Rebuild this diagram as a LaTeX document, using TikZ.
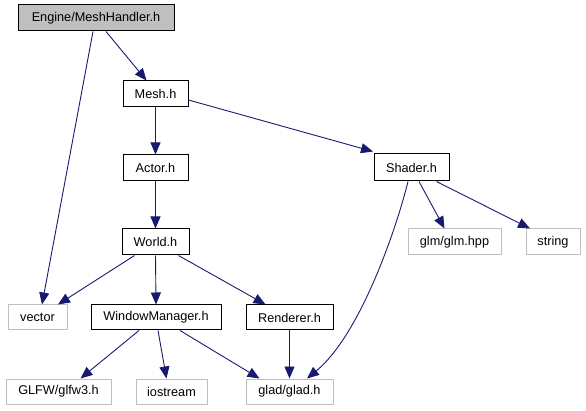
\documentclass[tikz,border=0pt]{standalone}
\usepackage{fontspec}
\setmainfont{Liberation Sans}
\usetikzlibrary{arrows.meta}
\definecolor{edgeblue}{HTML}{191970}
\definecolor{sysgray}{HTML}{BFBFBF}
\begin{document}
\begin{tikzpicture}[x=1pt,y=-1pt,
  box/.style={draw=black,fill=white,line width=1pt,inner sep=0pt,minimum height=26pt,font=\fontsize{12.7}{14}\selectfont},
  sysbox/.style={box,draw=sysgray,line width=1pt,minimum height=25pt},
  rootbox/.style={box,fill=sysgray},
  edge/.style={draw=edgeblue,line width=0.9pt,-{Triangle[length=12pt,width=10pt]}}]
\useasboundingbox (0,0) rectangle (586,411);
\node[rootbox,minimum width=156pt] (mh) at (96,18) {Engine/MeshHandler.h};
\node[box,minimum width=65pt] (mesh) at (155.5,94) {Mesh.h};
\node[box,minimum width=65pt] (actor) at (155.5,168) {Actor.h};
\node[box,minimum width=67pt] (world) at (155.5,242) {World.h};
\node[box,minimum width=75pt,minimum height=27pt] (shader) at (411.5,167.5) {Shader.h};
\node[sysbox,minimum width=59pt] (vector) at (37.5,317.5) {vector};
\node[box,minimum width=130pt,minimum height=25pt] (wm) at (156,317.5) {WindowManager.h};
\node[box,minimum width=87pt,minimum height=25pt] (rend) at (289.5,317.5) {Renderer.h};
\node[sysbox,minimum width=105pt] (glfw) at (58.5,391.5) {GLFW/glfw3.h};
\node[sysbox,minimum width=71pt] (ios) at (171.5,391.5) {iostream};
\node[sysbox,minimum width=87pt] (glad) at (289.5,391.5) {glad/glad.h};
\node[sysbox,minimum width=93pt,minimum height=26pt] (glm) at (454.5,242) {glm/glm.hpp};
\node[sysbox,minimum width=54pt,minimum height=26pt] (str) at (553,242) {string};

\draw[edge] ([xshift=-3pt]mh.south) -- ([xshift=4.5pt]vector.north);
\draw[edge] ([xshift=10pt]mh.south) -- ([xshift=-9pt]mesh.north);
\draw[edge] (mesh.south) -- (actor.north);
\draw[edge] ([yshift=-6pt]mesh.east) -- ([xshift=-0.5pt,yshift=2pt]shader.north west);
\draw[edge] (actor.south) -- (world.north);
\draw[edge] ([xshift=-21pt]world.south) -- ([xshift=20.5pt]vector.north);
\draw[edge] (world.south) -- (wm.north);
\draw[edge] ([xshift=23pt]world.south) -- ([xshift=-24pt]rend.north);
\draw[edge] ([xshift=-17pt]wm.south) -- ([xshift=22pt]glfw.north);
\draw[edge] ([xshift=2pt]wm.south) -- ([xshift=-5pt]ios.north);
\draw[edge] ([xshift=24pt]wm.south) -- ([xshift=-30pt]glad.north);
\draw[edge] (rend.south) -- (glad.north);
\draw[edge] ([xshift=-3.5pt]shader.south) .. controls (396,230) and (360,335) .. ([xshift=17.5pt]glad.north);
\draw[edge] ([xshift=7.5pt]shader.south) -- ([xshift=-10pt]glm.north);
\draw[edge] ([xshift=25pt]shader.south) -- ([xshift=-23pt]str.north);
\end{tikzpicture}
\end{document}
